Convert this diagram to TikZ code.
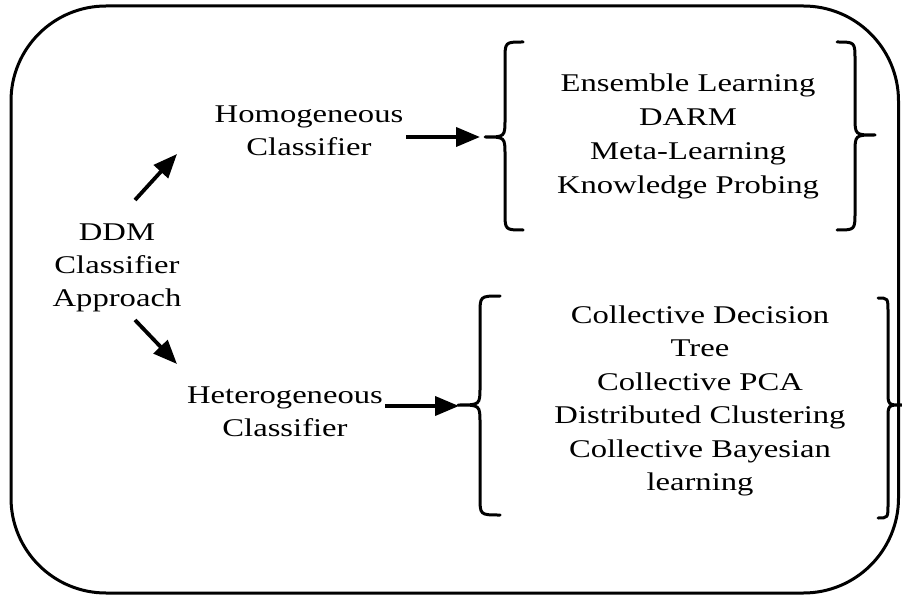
\documentclass[tikz,border=0pt]{standalone}
\usepackage{fontspec}
\setmainfont{Liberation Serif}[FakeStretch=1.28]
\usetikzlibrary{arrows.meta}

% curly brace: #1 end x, #2 stem x, #3 tip x, #4 top y, #5 tip y, #6 bottom y, #7 hook size
\newcommand{\bracepath}[7]{%
  \draw[brace] (#1,#4) .. controls (#2,#4) .. (#2,#4+#7)
    -- (#2,#5-#7) .. controls (#2,#5) .. (#3,#5)
    .. controls (#2,#5) .. (#2,#5+#7)
    -- (#2,#6-#7) .. controls (#2,#6) .. (#1,#6);}

\begin{document}
\begin{tikzpicture}[x=1pt,y=-1pt,
  lbl/.style={align=center, inner sep=0pt, font=\fontsize{25.5}{33}\selectfont},
  flow/.style={line width=3.8pt, -{Triangle[length=24pt,width=19pt]}},
  brace/.style={line width=3pt, line cap=round, line join=round},
  frame/.style={line width=3pt, rounded corners=95pt},
]
\useasboundingbox (0,0) rectangle (902,596);

% outer frame
\draw[frame] (11,6) rectangle (898.5,593);

% labels
\node[lbl] (ddm) at (117,268) {DDM\\Classifier\\Approach};
\node[lbl] (homo) at (309,131) {Homogeneous\\Classifier};
\node[lbl] (hetero) at (285,412) {Heterogeneous\\Classifier};
\node[lbl, font=\fontsize{25.5}{34}\selectfont] (homolist) at (688,136)
  {Ensemble Learning\\DARM\\Meta-Learning\\Knowledge Probing};
\node[lbl, font=\fontsize{25.5}{33.4}\selectfont] (heterolist) at (700,401)
  {Collective Decision\\Tree\\Collective PCA\\Distributed Clustering\\Collective Bayesian\\learning};

% arrow end points
\coordinate (upA) at (135,200);
\coordinate (upB) at (177,154);
\coordinate (dnA) at (135,320);
\coordinate (dnB) at (177,364);
\coordinate (hoA) at (406,137);
\coordinate (hoB) at (480,137);
\coordinate (heA) at (385,406);
\coordinate (heB) at (459,406);

\draw[flow] (upA) -- (upB);
\draw[flow] (dnA) -- (dnB);
\draw[flow] (hoA) -- (hoB);
\draw[flow] (heA) -- (heB);

% braces
\bracepath{523}{505}{485}{42}{137}{230}{18}
\bracepath{837}{855}{875}{42}{135}{230}{18}
\bracepath{500}{480}{458}{296}{405}{515}{18}
\bracepath{878}{888}{902}{298}{405}{518}{14}
\end{tikzpicture}
\end{document}
